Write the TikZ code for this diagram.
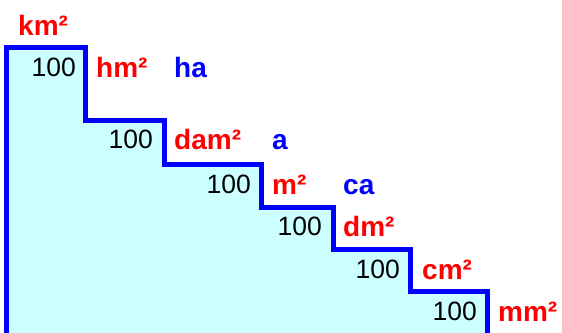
\documentclass[tikz,border=0pt]{standalone}
\usepackage{fontspec}
\setmainfont{Liberation Sans}
\usepackage{tikz}
\definecolor{stairfill}{HTML}{CCFFFF}
\tikzstyle{stair} = [draw=blue, line width=5pt, fill=stairfill, line join=miter]
\tikzstyle{unit} = [text=red, font=\fontsize{28}{30}\selectfont\bfseries, inner sep=0pt, anchor=base west]
\tikzstyle{oldunit} = [unit, text=blue]
\tikzstyle{factor} = [font=\fontsize{26.5}{30}\selectfont, inner sep=0pt, anchor=base east]

\begin{document}
\begin{tikzpicture}[x=1pt, y=-1pt]
    \useasboundingbox (0,0) rectangle (562,332);
    % Step corners
    \coordinate (base) at (6.5,345);
    \coordinate (t1) at (85.5,47.5);
    \coordinate (t2) at (164.5,120.5);
    \coordinate (t3) at (261.5,164.5);
    \coordinate (t4) at (333.5,207);
    \coordinate (t5) at (410.5,249.5);
    \coordinate (t6) at (487.5,291.5);
    \coordinate (end) at (487.5,345);

    % Draw stair
    \path [stair] (base) |- (t1) |- (t2) |- (t3) |- (t4) |- (t5) |- (t6) -- (end);

    % Place nodes
    \node [unit] (km) at (18,35.5) {km²};
    \node [factor] (f1) at (76,76.5) {100};
    \node [unit] (hm) at (96,77.5) {hm²};
    \node [oldunit] (ha) at (174,77.5) {ha};
    \node [factor] (f2) at (153,148) {100};
    \node [unit] (dam) at (174,149) {dam²};
    \node [oldunit] (are) at (272,149) {a};
    \node [factor] (f3) at (251,193) {100};
    \node [unit] (m) at (272,194) {m²};
    \node [oldunit] (ca) at (343,194) {ca};
    \node [factor] (f4) at (322,235) {100};
    \node [unit] (dm) at (343,236) {dm²};
    \node [factor] (f5) at (400,278) {100};
    \node [unit] (cm) at (422,279) {cm²};
    \node [factor] (f6) at (477,320.5) {100};
    \node [unit] (mm) at (498,321.5) {mm²};
\end{tikzpicture}
\end{document}
